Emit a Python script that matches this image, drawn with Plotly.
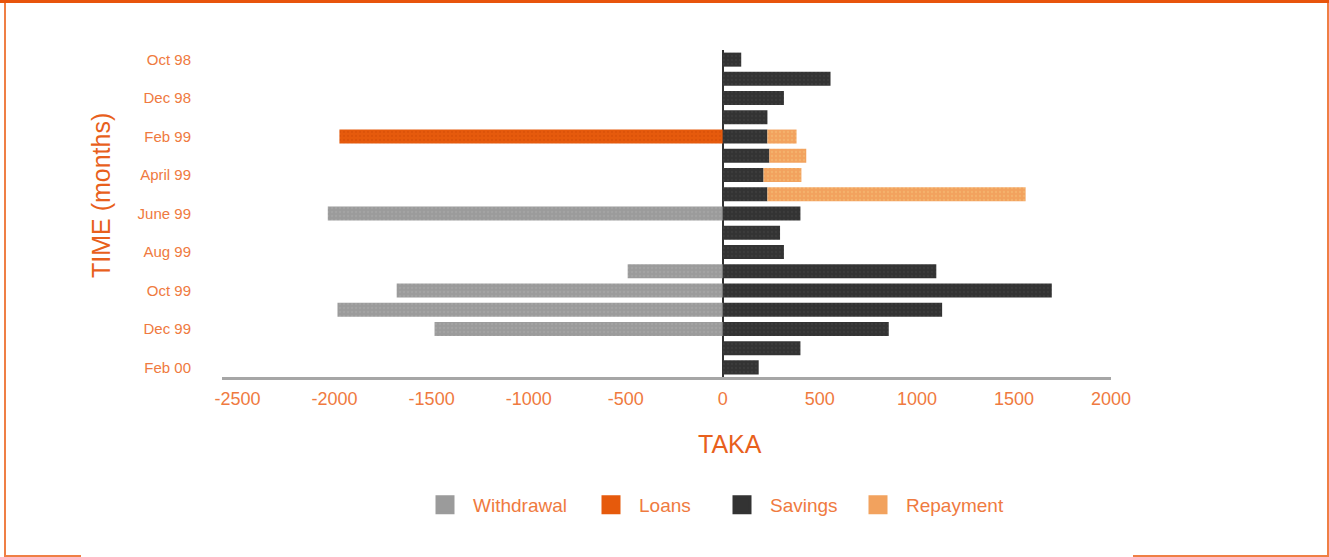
import plotly.graph_objects as go

# ---- data ----
months = ["Oct 98", "Nov 98", "Dec 98", "Jan 99", "Feb 99", "Mar 99", "Apr 99", "May 99",
          "June 99", "July 99", "Aug 99", "Sep 99", "Oct 99", "Nov 99", "Dec 99", "Jan 00", "Feb 00"]
tick_months = ["Oct 98", "Dec 98", "Feb 99", "Apr 99", "June 99", "Aug 99", "Oct 99", "Dec 99", "Feb 00"]
tick_text = ["Oct 98", "Dec 98", "Feb 99", "April 99", "June 99", "Aug 99", "Oct 99", "Dec 99", "Feb 00"]

withdrawal = [0, 0, 0, 0, 0, 0, 0, 0, -2035, 0, 0, -490, -1680, -1985, -1485, 0, 0]
loans      = [0, 0, 0, 0, -1975, 0, 0, 0, 0, 0, 0, 0, 0, 0, 0, 0, 0]
savings    = [95, 555, 315, 230, 230, 240, 210, 230, 400, 295, 315, 1100, 1695, 1130, 855, 400, 185]
repayment  = [0, 0, 0, 0, 150, 190, 195, 1330, 0, 0, 0, 0, 0, 0, 0, 0, 0]

x_ticks = [-2500, -2000, -1500, -1000, -500, 0, 500, 1000, 1500, 2000]
x_tick_text = ["-2500", "-2000", "-1500", "-1000", "-500", "0", "500", "1000", "1500", "2000"]

# ---- style ----
W, H = 1329, 557
ML, MR, MT, MB = 222, 218, 50, 180
PW, PH = W - ML - MR, H - MT - MB

def px(x):
    return (x - ML) / PW

def py(y):
    return (H - MB - y) / PH

C_WD, C_LO, C_SA, C_RE = "#9b9b9b", "#e65a0c", "#333333", "#f2a25e"
C_TXT = "#ef7a40"
C_TITLE = "#e8601c"
FONT = "Liberation Sans, Arial, sans-serif"

series = [
    ("Withdrawal", withdrawal, C_WD, "#ababab", "legend"),
    ("Loans", loans, C_LO, "#d24c06", "legend2"),
    ("Savings", savings, C_SA, "#444444", "legend3"),
    ("Repayment", repayment, C_RE, "#f6c27a", "legend4"),
]

fig = go.Figure()
for name, vals, col, dot, lg in series:
    fig.add_trace(go.Bar(
        y=months, x=vals, orientation="h", name=name, showlegend=False,
        marker=dict(color=col, line=dict(width=0),
                    pattern=dict(shape=".", fgcolor=dot, bgcolor=col, size=4, solidity=0.25)),
    ))
for name, vals, col, dot, lg in series:
    fig.add_trace(go.Scatter(
        x=[None], y=[None], mode="markers", name=name, legend=lg,
        marker=dict(symbol="square", size=16, color=col, line=dict(color=col, width=3)),
    ))

sym_centers = [445, 611, 742, 878]
legends = {}
for i, lg in enumerate(["legend", "legend2", "legend3", "legend4"]):
    legends[lg] = dict(
        x=px(sym_centers[i] - 28), y=py(505), xanchor="left", yanchor="middle",
        orientation="h", bgcolor="rgba(0,0,0,0)", itemwidth=46,
        font=dict(family=FONT, size=19, color=C_TXT),
    )

shapes = [
    dict(type="rect", xref="paper", yref="paper", x0=px(0), x1=px(W), y0=py(0), y1=py(3),
         fillcolor="#e8540c", line=dict(width=0), layer="above"),
    dict(type="line", xref="paper", yref="paper", x0=px(5), x1=px(5), y0=py(3), y1=py(556),
         line=dict(color="#ef7f45", width=2)),
    dict(type="line", xref="paper", yref="paper", x0=px(1328), x1=px(1328), y0=py(3), y1=py(556),
         line=dict(color="#ef7f45", width=2)),
    dict(type="line", xref="paper", yref="paper", x0=px(4), x1=px(81), y0=py(556), y1=py(556),
         line=dict(color="#ef7f45", width=2)),
    dict(type="line", xref="paper", yref="paper", x0=px(1133), x1=px(1329), y0=py(556), y1=py(556),
         line=dict(color="#ef7f45", width=2)),
]

annotations = [
    dict(text="TIME (months)", xref="paper", yref="paper", x=px(101), y=py(196),
         textangle=-90, showarrow=False, xanchor="center", yanchor="middle",
         font=dict(family=FONT, size=25, color=C_TITLE)),
    dict(text="TAKA", xref="paper", yref="paper", x=px(730), y=py(444),
         showarrow=False, xanchor="center", yanchor="middle",
         font=dict(family=FONT, size=25, color=C_TITLE)),
]

fig.update_layout(
    width=W, height=H, margin=dict(l=ML, r=MR, t=MT, b=MB, pad=0),
    paper_bgcolor="white", plot_bgcolor="white",
    barmode="relative", bargap=0.27,
    shapes=shapes, annotations=annotations,
    **legends,
)
fig.update_xaxes(
    range=[-2580, 2000], tickvals=x_ticks, ticktext=x_tick_text, showgrid=False,
    zeroline=True, zerolinecolor="#333333", zerolinewidth=2,
    showline=True, linecolor="#a6a6a6", linewidth=3, ticks="",
    ticklabelstandoff=3,
    tickfont=dict(family=FONT, size=18, color=C_TXT),
)
fig.update_yaxes(
    autorange="reversed", tickvals=tick_months, ticktext=tick_text, showgrid=False,
    showline=False, ticks="", ticklabelstandoff=30,
    tickfont=dict(family=FONT, size=15, color=C_TXT),
)

fig.write_html(
    "out.html",
    config={"displayModeBar": False},
    post_script="document.body.style.margin='0px';document.body.style.overflow='hidden';",
)
